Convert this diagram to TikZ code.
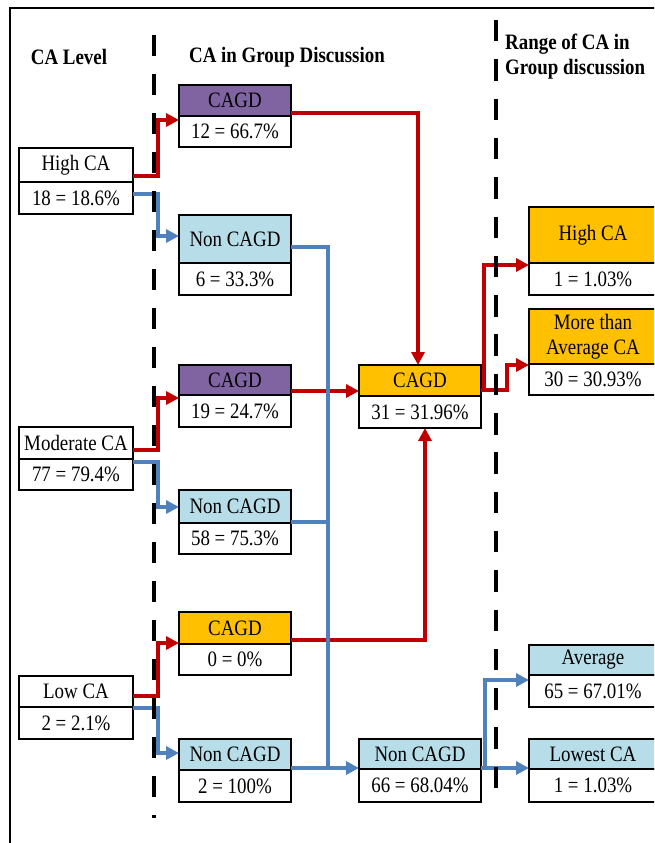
\documentclass[tikz,border=0pt]{standalone}
\usepackage{fontspec}
\setmainfont{Liberation Serif}[FakeStretch=0.86]
\usetikzlibrary{arrows.meta}
\definecolor{purp}{HTML}{8064A2}
\definecolor{lblue}{HTML}{B7DDE8}
\definecolor{orng}{HTML}{FFC000}
\definecolor{redc}{HTML}{C00000}
\definecolor{bluec}{HTML}{4F81BD}
\begin{document}
\begin{tikzpicture}[x=1pt,y=-1pt,
  box/.style={draw=black, line width=1.2pt, inner sep=0pt, outer sep=0pt, anchor=north west,
    font=\fontsize{22}{25}\selectfont, text=black, align=center},
  lw/.style={box, minimum width=114pt},
  mw/.style={box, minimum width=112pt},
  cw/.style={box, minimum width=122pt},
  rw/.style={box, minimum width=128pt},
  hdr/.style={font=\fontsize{22}{25}\selectfont\bfseries, inner sep=0pt},
  tip/.style={-{Triangle[length=13pt,width=13pt]}},
  rline/.style={draw=redc, line width=4pt},
  bline/.style={draw=bluec, line width=4pt},
  sep/.style={draw=black, line width=4pt, dash pattern=on 21pt off 18pt}
]
\clip (0,0) rectangle (654,843);
\useasboundingbox (0,0) rectangle (654,843);
\draw[line width=1.5pt] (10,850) -- (10,8) -- (660,8);

% headers
\node[hdr] (h1) at (69,57) {CA Level};
\node[hdr] (h2) at (287,57) {CA in Group Discussion};
\node[hdr, anchor=west, align=left] (h3) at (505,57) {Range of CA in\\Group discussion};

% left column
\node[lw, minimum height=34pt] (hca) at (19,148) {High CA};
\node[lw, minimum height=32pt] (hcav) at (hca.south west) {18 = 18.6\%};
\node[lw, minimum height=32pt] (mca) at (19,427) {Moderate CA};
\node[lw, minimum height=31pt] (mcav) at (mca.south west) {77 = 79.4\%};
\node[lw, minimum height=31pt] (lca) at (19,676) {Low CA};
\node[lw, minimum height=32pt] (lcav) at (lca.south west) {2 = 2.1\%};

% middle column
\node[mw, fill=purp, minimum height=31pt] (cagd1) at (179,85) {CAGD};
\node[mw, minimum height=31pt] (cagd1v) at (cagd1.south west) {12 = 66.7\%};
\node[mw, fill=lblue, minimum height=48pt] (ncagd1) at (179,215) {Non CAGD};
\node[mw, minimum height=32pt] (ncagd1v) at (ncagd1.south west) {6 = 33.3\%};
\node[mw, fill=purp, minimum height=30pt] (cagd2) at (179,365) {CAGD};
\node[mw, minimum height=32pt] (cagd2v) at (cagd2.south west) {19 = 24.7\%};
\node[mw, fill=lblue, minimum height=33pt] (ncagd2) at (179,490) {Non CAGD};
\node[mw, minimum height=31pt] (ncagd2v) at (ncagd2.south west) {58 = 75.3\%};
\node[mw, fill=orng, minimum height=32pt] (cagd3) at (179,612) {CAGD};
\node[mw, minimum height=31pt] (cagd3v) at (cagd3.south west) {0 = 0\%};
\node[mw, fill=lblue, minimum height=31pt] (ncagd3) at (179,739) {Non CAGD};
\node[mw, minimum height=32pt] (ncagd3v) at (ncagd3.south west) {2 = 100\%};

% center column
\node[cw, fill=orng, minimum height=31pt] (cc) at (359,365) {CAGD};
\node[cw, minimum height=32pt] (ccv) at (cc.south west) {31 = 31.96\%};
\node[cw, fill=lblue, minimum height=30pt] (nc) at (359,739) {Non CAGD};
\node[cw, minimum height=33pt] (ncv) at (nc.south west) {66 = 68.04\%};

% right column
\node[rw, fill=orng, minimum height=56pt] (rhca) at (529,207) {High CA};
\node[rw, minimum height=32pt] (rhcav) at (rhca.south west) {1 = 1.03\%};
\node[rw, fill=orng, minimum height=55pt] (rmore) at (529,309) {More than\\Average CA};
\node[rw, minimum height=31pt] (rmorev) at (rmore.south west) {30 = 30.93\%};
\node[rw, fill=lblue, minimum height=30pt] (ravg) at (529,645) {Average};
\node[rw, minimum height=32pt] (ravgv) at (ravg.south west) {65 = 67.01\%};
\node[rw, fill=lblue, minimum height=30pt] (rlow) at (529,739) {Lowest CA};
\node[rw, minimum height=33pt] (rlowv) at (rlow.south west) {1 = 1.03\%};

% red connectors
\draw[rline, tip] (hca.east |- 0,176) -- (158,176) -- (158,120) -- (cagd1v.west |- 0,120);
\draw[rline, tip] (mca.east |- 0,450) -- (158,450) -- (158,398) -- (cagd2v.west |- 0,398);
\draw[rline, tip] (lca.east |- 0,696) -- (158,696) -- (158,643) -- (cagd3.west |- 0,643);
\draw[rline, tip] (cagd1.east |- 0,113) -- (418,113) -- (cc.north -| 418,0);
\draw[rline, tip] (cagd2.east |- 0,391) -- (cc.west |- 0,391);
\draw[rline, tip] (cagd3.east |- 0,640) -- (425,640) -- (ccv.south -| 425,0);
\draw[rline, tip] (cc.east |- 0,390) -- (484,390) -- (484,265) -- (rhca.west |- 0,265);
\draw[rline, tip] (484,390) -- (507,390) -- (507,365) -- (rmorev.west |- 0,365);

% blue connectors
\draw[bline, tip] (hcav.east |- 0,194) -- (158,194) -- (158,236) -- (ncagd1.west |- 0,236);
\draw[bline, tip] (mcav.east |- 0,462) -- (158,462) -- (158,507) -- (ncagd2.west |- 0,507);
\draw[bline, tip] (lcav.east |- 0,708) -- (158,708) -- (158,753) -- (ncagd3.west |- 0,753);
\draw[bline] (ncagd1.east |- 0,247) -- (328,247) -- (328,768);
\draw[bline] (ncagd2v.east |- 0,522) -- (328,522);
\draw[bline, tip] (ncagd3.east |- 0,768) -- (nc.west |- 0,768);
\draw[bline, tip] (nc.east |- 0,768) -- (rlow.west |- 0,768);
\draw[bline, tip] (485,768) -- (485,680) -- (ravgv.west |- 0,680);

% dashed separators
\draw[sep] (154,35) -- (154,818);
\draw[sep, dash pattern=on 21.5pt off 17.8pt] (496,20) -- (496,802);
\end{tikzpicture}
\end{document}
